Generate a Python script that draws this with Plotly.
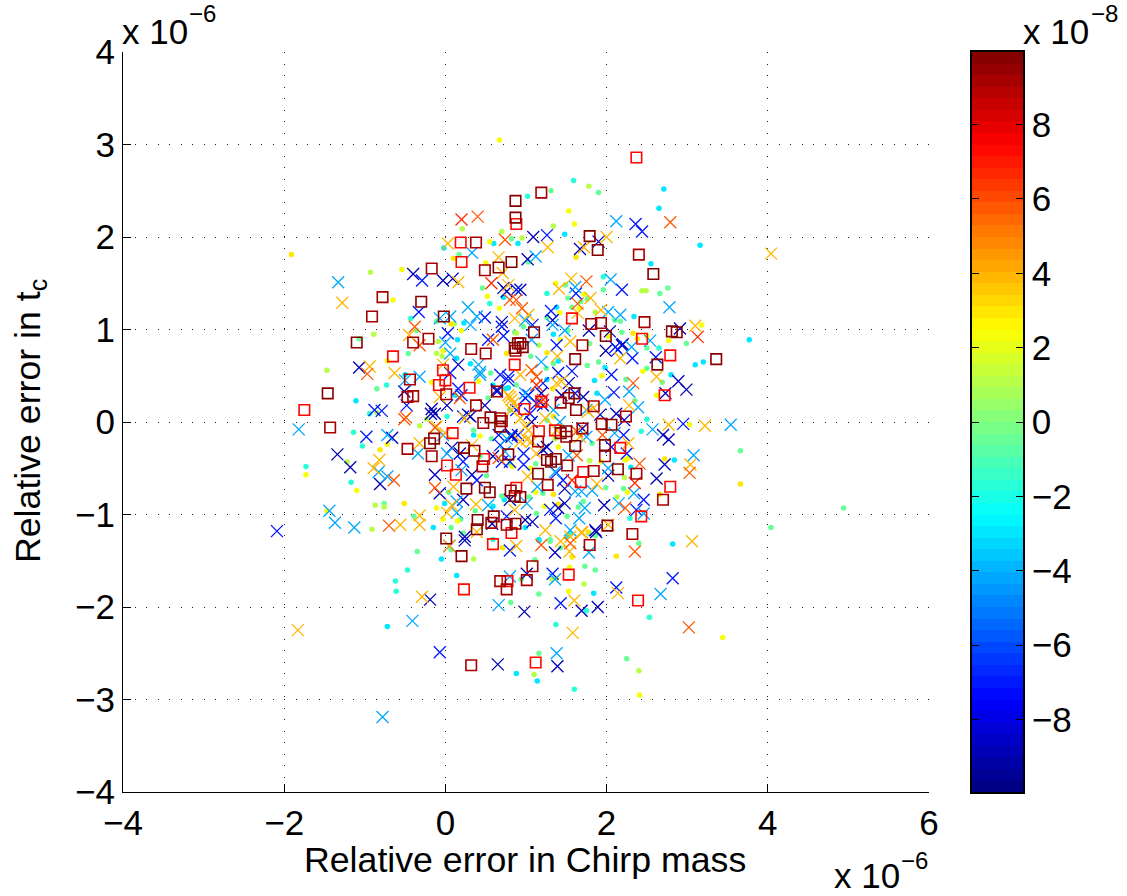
import plotly.graph_objects as go

# --- data: relative errors in units of 1e-6 (x = chirp mass, y = t_c), colour value in units of 1e-8 ---
cross_navy = [(-.40,1.60),(-.03,1.53),(.09,1.55),(.72,1.45),(.76,1.41),(.70,1.08),(1.09,2.00),(1.90,1.95),(1.67,1.87),(1.02,1.76),(1.33,1.10),(1.78,.99),(2.04,.98),(2.19,.83),(2.91,1.01),(.93,1.43),(-1.07,.59),(-.51,.33),(-.66,-.17),(-1.34,-.35),(-1.18,-.49),(-.81,-.67),(-.13,-.57),(-.07,-.77),(-.17,.14),(-.18,.09),(.08,-.28),(.18,-.34),(.33,-.57),(.22,-.84),(.58,-1.10),(.24,-1.24),(.31,.06),(.02,.18),(.16,.62),(.49,.18),(.64,.35),(.64,.33),(.82,-.16),(.59,-.37),(2.89,.44),(2.99,.35),(2.73,.31),(1.99,.77),(2.20,.84),(1.92,.08),(2.12,.09),(2.22,.02),(2.70,-.14),(2.77,-.19),(2.72,-.46),(2.62,-.61),(2.02,-.58),(1.97,-.90),(1.48,-.72),(.80,-.84),(1.48,-.88),(1.40,-.93),(1.86,-1.17),(1.08,-1.08),(.99,-1.06),(1.19,.31),(1.21,.18),(1.71,.27),(1.44,.29),(1.53,.42),(1.07,0),(.82,-.14),(1.26,-.27),(1.70,-.07),(-.19,-1.92),(.24,-1.28),(.98,-2.05),(.65,-2.62),(1.01,-1.64),(1.36,-1.41),(1.69,-2.04),(1.89,-2.00),(1.39,-2.64),(1.87,-1.19),(-.13,.09),(.28,.08),(1.21,-.30)]
cross_blue = [(-.29,1.53),(.49,1.13),(.70,1.03),(.72,.93),(.53,.89),(-.33,1.19),(.03,.96),(.88,1.43),(2.36,2.14),(2.44,2.06),(1.26,2.02),(2.19,1.43),(1.62,1.39),(1.31,1.20),(1.38,.83),(2.11,.81),(1.08,1.05),(-.48,.18),(-.88,.13),(-.79,.12),(-.98,-.16),(.22,.06),(.16,.36),(.22,-.43),(.39,-.63),(.68,.51),(.78,.49),(.88,.13),(.66,-.14),(.70,-.43),(2.61,.70),(2.06,.51),(2.32,.69),(2.14,.78),(2.09,.32),(2.95,-.02),(2.21,-.14),(2.25,-.34),(2.46,-.84),(2.37,-.95),(1.38,-.55),(1.46,-.63),(.97,-.46),(1.30,-.95),(1.37,-1.04),(.76,-1.02),(1.03,.29),(1.40,.53),(1.57,.55),(1.21,.42),(1.61,.31),(-2.09,-1.18),(-.07,-2.49),(.05,-1.34),(.80,-1.39),(2.82,-1.69),(2.12,-1.79),(1.43,-1.96),(1.33,-1.64),(.20,.29),(.68,-.25),(.90,-.14),(.97,-.34),(.99,.26),(1.05,.09),(.78,.45),(.06,.53),(.80,-.43),(1.13,.20),(2.06,-.27)]
cross_azure = [(-1.33,1.51),(.33,1.83),(.28,1.24),(.39,1.14),(.31,1.05),(-.07,1.12),(.06,1.14),(.00,.86),(2.12,2.17),(1.12,1.79),(2.05,1.54),(1.61,1.46),(2.02,1.19),(2.17,1.16),(2.78,1.24),(2.54,.88),(1.33,1.05),(1.48,.99),(2.31,.81),(.99,1.10),(1.07,.89),(-.50,.45),(-.32,.49),(-1.82,-.08),(-.72,-.14),(-.83,-.54),(-.72,-.59),(-1.37,-1.09),(-1.13,-1.14),(-.34,-.34),(-.03,-.14),(.02,-.34),(.20,-.52),(.14,-.86),(.14,-.98),(.53,-.90),(.06,.74),(.41,.62),(.43,.54),(.76,-.18),(2.57,-.08),(2.28,.33),(2.39,.16),(1.98,.24),(1.75,.13),(2.10,-.12),(3.54,-.03),(3.08,-.36),(2.02,-.50),(2.34,-.77),(2.15,-.88),(2.46,-.99),(1.82,-.74),(1.69,-.75),(1.61,-.75),(1.14,-.70),(1.01,-.88),(1.73,-.93),(1.66,-1.04),(1.55,-1.17),(1.19,.65),(.99,.31),(1.34,.13),(1.42,0),(1.53,-.36),(1.75,-.16),(1.36,-.54),(-.41,-2.15),(.80,-1.67),(.66,-1.98),(-.78,-3.19),(1.78,-1.41),(2.67,-1.86),(1.36,-1.70),(1.38,-2.50),(-1.44,-.96),(.43,.51),(.74,-.32)]
cross_orange = [(-1.28,1.29),(.03,1.93),(.66,1.78),(.16,1.51),(.71,1.61),(.78,1.48),(.86,1.12),(-.45,.94),(4.04,1.82),(2.00,2.00),(1.72,1.89),(1.27,1.89),(1.56,1.55),(1.41,1.44),(1.80,1.34),(1.64,1.18),(1.93,1.21),(3.10,1.04),(1.55,.87),(1.03,1.16),(-.94,.60),(-.63,.53),(-.82,-.41),(-.89,-.50),(-.56,-1.11),(-.32,-1.11),(-.32,-1.01),(-.32,-.23),(-.03,.62),(.80,.27),(.84,.20),(.24,.04),(.10,-.70),(.08,-.90),(.02,-.98),(.38,-.89),(3.22,-.04),(2.77,-.03),(2.62,.49),(2.17,.69),(2.28,.18),(1.84,.15),(2.27,-.23),(3.04,-.46),(1.88,-.67),(.86,-.95),(1.69,-1.19),(1.55,-1.24),(1.24,-1.17),(3.06,-1.29),(2.02,-1.11),(.78,.29),(.82,.24),(1.39,.71),(.93,.51),(1.38,.42),(1.02,-.59),(.93,.04),(1.03,-.09),(.93,-.21),(1.13,-.34),(1.67,-.16),(-.29,-1.89),(.88,-1.34),(.39,-1.19),(1.60,-1.93),(1.58,-2.28),(2.14,-1.85),(1.54,-1.40),(1.43,-1.29),(1.69,-1.20),(.05,-1.34),(-1.83,-2.25),(-.07,.27),(-.11,-.05),(0,-.12),(.33,-.25),(1.01,-.19),(.82,.13),(.99,-.05),(1.44,.44),(1.77,.11),(1.24,.04),(1.38,-.09),(1.07,-.21)]
cross_dkorange = [(.40,2.22),(.74,1.97),(.80,1.32),(-.38,1.03),(-.32,.83),(2.79,2.16),(1.75,1.52),(1.64,1.28),(.88,1.32),(.95,1.23),(-.97,.52),(.59,.89),(-.51,.03),(-.49,.05),(-.64,-.63),(-.13,-.06),(-.13,-.71),(.18,.26),(-.70,-1.12),(2.33,.42),(1.95,-.14),(2.41,-.45),(2.23,-.93),(1.63,-.10),(1.63,-.36),(1.07,.56),(3.03,-.55),(3.02,-2.22),(2.35,-1.40),(1.19,-1.33),(1.55,-1.31),(.66,-.39),(1.13,.49),(1.21,.24)]
cross_red = [(.20,2.19),(.57,1.50),(3.13,.92),(2.35,-.66),(1.57,-.63),(1.13,.40),(1.19,.22)]
square_red = [(.19,1.94),(.20,1.73),(.88,2.14),(2.37,2.86),(1.57,1.12),(2.44,.90),(-.65,.71),(-1.75,.13),(.09,-.12),(-.03,.56),(0,.45),(-.08,.40),(.30,.37),(.48,-.40),(.02,-.47),(.13,-.57),(.88,-.71),(.82,-1.20),(2.79,.72),(2.72,.29),(.98,.14),(1.16,-.10),(1.36,-.09),(2.17,-.28),(1.71,-.54),(1.68,-.65),(2.79,-.70),(2.43,-1.02),(.23,-1.81),(.59,-1.32),(.77,-1.72),(2.39,-1.93),(1.53,-1.65),(1.12,-2.60),(.86,.62),(1.19,.22)]
square_brown = [(.38,1.94),(-.17,1.66),(-.78,1.35),(-.91,1.14),(-.40,.86),(-.21,.90),(.32,.79),(1.19,2.48),(2.40,1.81),(1.81,1.06),(1.93,1.07),(2.47,1.08),(1.70,.83),(.49,1.64),(-1.43,-.06),(-.44,.46),(-.47,.27),(-.40,.28),(-.47,-.29),(-.17,-.37),(.01,.30),(.50,.74),(.38,.18),(.47,-.01),(.68,.04),(.70,.01),(.46,-.48),(.57,-1.09),(.76,-1.11),(.64,.33),(.87,.77),(2.24,.06),(1.43,.21),(1.84,.17),(1.94,-.02),(1.70,-.07),(1.50,-.16),(1.15,-.21),(1.98,-.37),(1.51,-.47),(1.84,-.53),(2.37,-.56),(1.27,-.68),(2.70,-.84),(2.32,-1.21),(.68,-1.72),(.76,-1.81),(1.01,-1.71),(1.08,-1.56),(.32,-2.63),(1.79,-1.33)]
square_dark = [(.87,2.39),(.87,2.21),(.82,1.73),(.66,1.67),(-.30,1.30),(-.02,1.14),(-1.10,.86),(.90,.85),(1.79,2.01),(1.89,1.86),(2.58,1.60),(2.81,.98),(2.87,.97),(1.99,.93),(1.10,.97),(.93,.85),(.86,.80),(.96,.81),(-1.46,.31),(-.19,-.23),(-.14,-.18),(.56,.05),(.68,-.05),(.23,-.28),(.36,-.31),(.78,-.35),(.26,-.72),(.49,-.71),(.55,-.76),(.81,-.74),(.86,-.80),(.40,-1.06),(.39,-1.16),(.60,-1.02),(.87,-1.10),(.01,-1.26),(3.36,.68),(2.63,.62),(1.61,.68),(1.60,.31),(1.53,.26),(1.62,.13),(2.06,-.03),(1.43,-.12),(1.50,-.10),(1.61,-.26),(1.98,-.25),(1.26,-.41),(1.31,-.43),(1.37,-.40),(2.14,-.51),(1.15,-.56),(.93,-.81),(2.01,-1.12),(.20,-1.45)]
dot_cyan = [(-.02,1.88),(.60,1.93),(.90,1.93),(.15,.89),(.23,1.07),(.72,1.35),(2.71,2.52),(2.65,2.31),(1.48,2.03),(3.16,1.91),(2.55,1.71),(1.38,1.24),(2.34,1.14),(3.77,.89),(1.34,.95),(-1.11,.23),(-.50,.51),(.14,.69),(.31,.63),(.74,.36),(.78,.37),(.12,.29),(.35,-.14),(-.15,-1.14),(-.01,-.88),(.59,-.91),(.73,-.84),(3.20,.65),(3.10,.62),(2.80,.51),(1.98,.59),(1.85,.45),(1.88,.31),(2.84,-.41),(2.30,-.49),(.99,-1.14),(1.16,-1.27),(1.50,-1.24),(1.26,.46),(1.40,.66),(-.72,-2.21),(-.05,-1.48),(.14,-1.66),(.88,-2.72),(1.14,-2.80),(2.82,-1.32),(1.84,-1.85),(1.16,-1.28),(1.78,-1.20),(.59,.40)]
dot_teal = [(.55,1.28),(-.43,1.12),(1.59,2.61),(1.02,2.44),(1.96,1.57),(1.26,1.39),(2.65,.80),(-.73,.40),(-.94,.09),(-1.14,-.11),(-1.03,-.26),(-1.73,-.48),(-1.17,-.65),(.02,.06),(2.50,.03),(2.43,-.10),(2.29,-1.04),(-.47,-1.60),(-.62,-1.72),(-.61,-1.83),(.59,-1.27),(1.75,-2.04),(2.53,-2.11),(1.37,-2.19),(1.60,-2.89),(1.55,-1.21)]
dot_green = [(.17,1.81),(.46,1.45),(.82,1.98),(.86,.97),(-.36,.99),(-1.07,.90),(-.11,1.09),(1.90,2.48),(1.31,2.50),(1.03,1.73),(1.96,1.43),(1.49,1.48),(1.52,1.34),(1.76,1.33),(1.68,1.30),(1.57,1.24),(1.26,1.13),(2.76,1.45),(2.66,1.39),(2.10,1.10),(2.17,1.09),(2.19,.97),(2.99,.85),(2.50,.80),(1.52,.99),(1.79,.85),(.97,1.03),(-.85,.36),(-.46,.74),(.56,.53),(.53,.26),(.35,-.09),(.57,-.18),(.80,-.45),(.51,-.58),(.04,-.76),(.70,-.80),(-.76,-.88),(-.39,-1.02),(.07,-1.14),(.19,-1.05),(.22,-1.20),(.37,-.96),(4.04,-1.14),(3.66,-.31),(2.69,.43),(2.50,.58),(2.24,.46),(1.90,.65),(1.76,.61),(2.35,.23),(1.99,-.71),(2.21,-.72),(1.65,-.92),(1.71,-.86),(1.21,-.77),(1.04,-.81),(1.51,-1.02),(1.13,-.99),(1.30,-1.27),(1.86,-1.23),(1.12,-.45),(1.82,-.23),(1.26,.02),(.80,.13),(.88,.40),(1.34,.63),(1.06,.71),(1.25,.58),(-.35,-1.40),(.07,-1.38),(.81,-1.95),(.94,-1.70),(1.16,-1.86),(1.16,-2.50),(2.40,-1.31),(1.43,-1.36),(1.30,-1.29),(1.11,-1.49),(1.73,-1.56),(1.86,-1.60),(2.25,-2.56),(.43,-.37),(4.94,-.93)]
dot_lime = [(.21,2.09),(.70,2.06),(-.93,1.62),(-.89,.95),(-.09,.87),(.11,1.06),(.88,.96),(1.78,2.55),(1.34,2.12),(.95,1.99),(2.44,1.42),(2.49,1.42),(1.86,1.19),(1.16,.83),(-1.47,.56),(-1.22,-.43),(-.87,-.90),(-.76,-.92),(-.91,-1.16),(-.11,.74),(-.04,.71),(-.23,.03),(-.32,-.04),(-.85,.10),(1.79,-.42),(2.22,-.60),(2.13,-.81),(1.36,-.18),(.35,-1.48),(1.10,-2.73),(1.32,-1.70),(1.72,-1.75),(2.40,-2.69)]
dot_yellow = [(.67,3.05),(-.54,1.65),(-.65,1.32),(.50,1.72),(.52,1.36),(.67,1.23),(.20,.99),(1.53,2.28),(1.60,2.14),(1.37,1.50),(1.66,1.23),(1.72,1.38),(1.42,1.18),(3.18,1.05),(2.50,.93),(2.77,.88),(2.02,.93),(1.42,.89),(.55,1.95),(-1.73,-.57),(-1.10,-.74),(-.72,-.24),(-1.47,-.96),(-.11,-.93),(-.03,-1.05),(.15,-1.07),(-.72,.66),(-.17,.43),(-.03,.77),(.41,.44),(.43,-.15),(.83,-.48),(3.03,-.03),(2.62,.29),(2.45,.55),(1.94,.50),(2.23,-.41),(2.27,-.39),(1.93,-.43),(2.26,-.76),(1.12,-.76),(1.23,-.91),(1.06,-.50),(1.40,-.27),(1.38,-1.69),(1.54,-1.57),(1.53,-1.83),(3.44,-2.33),(2.41,-2.95)]
dot_gold = [(-1.91,1.81),(.10,1.77),(.07,1.06),(1.62,1.78),(2.33,.96),(2.38,.90),(-.81,-.30),(-.51,-.88),(.76,.74),(1.33,.36),(1.34,.06),(1.26,.75),(3.66,-.67),(2.72,-.40),(2.66,-.78),(1.34,-.78),(1.40,-.89),(1.77,-1.19),(.71,-1.36),(2.12,-1.45),(1.57,-1.46)]

dot_groups = [(dot_cyan,-2.8),(dot_teal,-1.6),(dot_green,-.4),(dot_lime,1.0),(dot_yellow,2.2),(dot_gold,3.1)]
cross_groups = [(cross_navy,-9.0),(cross_blue,-7.0),(cross_azure,-4.2),(cross_orange,3.9),(cross_dkorange,5.6),(cross_red,6.6)]
square_groups = [(square_red,7.2),(square_brown,9.3),(square_dark,9.8)]

x_ticks = [-4,-2,0,2,4,6]
y_ticks = [-4,-3,-2,-1,0,1,2,3,4]
c_ticks = [-8,-6,-4,-2,0,2,4,6,8]
C_MIN, C_MAX, LEVELS = -9.95, 9.95, 64

# --- MATLAB jet(64) as a stepped colour scale ---
def jet(t):
    clip = lambda v: max(0.0, min(1.0, v))
    return tuple(int(round(255 * clip(1.5 - abs(4 * t - k)))) for k in (3, 2, 1))
scale = []
for i in range(LEVELS):
    r, g, b = jet((i + 0.5) / LEVELS)
    c = f"rgb({r},{g},{b})"
    scale += [[i / LEVELS, c], [(i + 1) / LEVELS, c]]
centers = [C_MIN + (i + 0.5) * (C_MAX - C_MIN) / LEVELS for i in range(LEVELS)]

W, H = 1127, 896
FONT = "Liberation Sans"
FS = 35
def px(v): return v / W
def py(v): return 1 - v / H

fig = go.Figure()
def add(groups, symbol, size, lw):
    for pts, val in groups:
        fig.add_trace(go.Scatter(
            x=[p[0] for p in pts], y=[p[1] for p in pts], mode="markers",
            hoverinfo="skip", showlegend=False, cliponaxis=True,
            marker=dict(symbol=symbol, size=size, color=[val] * len(pts), coloraxis="coloraxis",
                        line=dict(width=lw))))
add(dot_groups, "circle", 5.5, 0)
add(cross_groups, "x-thin-open", 12, 1.3)
add(square_groups, "square-open", 10.5, 1.6)

fig.add_trace(go.Heatmap(x=[0], y=centers, z=[[v] for v in centers], coloraxis="coloraxis",
                         xaxis="x2", yaxis="y2", hoverinfo="skip"))

axis_common = dict(showline=True, linecolor="black", linewidth=1.2, ticks="inside", ticklen=8,
                   tickcolor="black", tickwidth=1, zeroline=False, automargin=False,
                   tickfont=dict(family=FONT, size=FS, color="black"))
grid = dict(showgrid=True, gridcolor="#222222", gridwidth=1, griddash="1px,10.5px")

fig.update_layout(
    template="none",
    width=W, height=H, autosize=False, margin=dict(l=0, r=0, t=0, b=0),
    paper_bgcolor="white", plot_bgcolor="white", showlegend=False,
    coloraxis=dict(colorscale=scale, cmin=C_MIN, cmax=C_MAX, showscale=False),
    xaxis=dict(domain=[px(123), px(929)], range=[-4, 6], tickvals=x_ticks, **axis_common, **grid),
    yaxis=dict(domain=[py(792), py(52)], range=[-4, 4], tickvals=y_ticks, **axis_common, **grid),
    xaxis2=dict(domain=[px(972), px(1023)], range=[-0.5, 0.5], anchor="y2", showticklabels=False, automargin=False,
                ticks="", showline=True, mirror=True, linecolor="black", linewidth=1.5, showgrid=False, zeroline=False),
    yaxis2=dict(domain=[py(792), py(52)], range=[C_MIN, C_MAX], anchor="x2", side="right", tickvals=c_ticks,
                showline=True, mirror="allticks", linecolor="black", linewidth=1.5, ticks="inside", ticklen=7, automargin=False,
                tickcolor="black", tickwidth=1, showgrid=False, zeroline=False,
                tickfont=dict(family=FONT, size=FS, color="black")),
)

def note(text, x, y, size=FS, angle=0, xanchor="left"):
    fig.add_annotation(text=text, xref="paper", yref="paper", x=px(x), y=py(y), showarrow=False, textangle=angle,
                       xanchor=xanchor, yanchor="middle", font=dict(family=FONT, size=size, color="black"))
note("x 10", 120, 31); note("\u22126", 187, 13, size=24)
note("x 10", 832, 875); note("\u22126", 899, 860, size=24)
note("x 10", 1021, 31); note("\u22128", 1089, 13, size=24)
note("Relative error in Chirp mass", 525, 860, size=35.7, xanchor="center")
note("Relative error in t<sub>c</sub>", 30, 421, size=35.7, angle=-90, xanchor="center")

fig.write_html("out.html", post_script="document.body.style.margin='0';", config=dict(displayModeBar=False))
